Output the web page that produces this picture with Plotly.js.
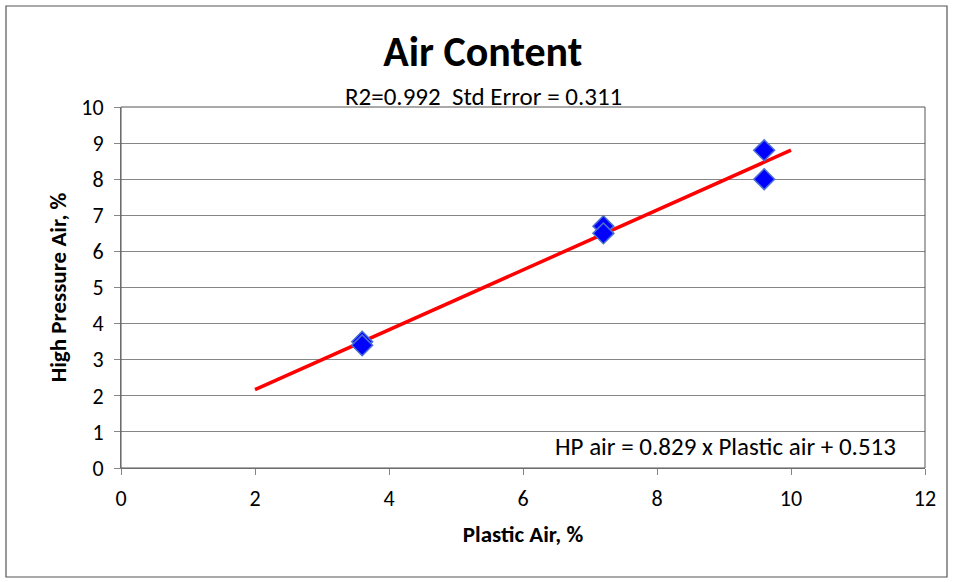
<!DOCTYPE html>
<html><head><meta charset="utf-8">
<script src="https://cdn.plot.ly/plotly-3.0.1.min.js"></script>
<style>html,body{margin:0;padding:0;background:#fff}#c{width:956px;height:582px}</style>
</head><body><div id="c"></div>
<script>
const plasticAir = [3.6, 3.6, 7.2, 7.2, 9.6, 9.6];
const hpAir = [3.5, 3.4, 6.7, 6.5, 8.8, 8.0];
const fitX = [2, 10];
const slope = 0.829, intercept = 0.513;
const fitY = fitX.map(x => slope * x + intercept);
const xTicks = [0, 2, 4, 6, 8, 10, 12];
const yTicks = [0, 1, 2, 3, 4, 5, 6, 7, 8, 9, 10];
const F = "Carlito, Calibri, Lato, 'Open Sans', sans-serif";

const traces = [
  {x: fitX, y: fitY, mode: 'lines', line: {color: '#ff0000', width: 3.5}, hoverinfo: 'skip'},
  {x: plasticAir, y: hpAir, mode: 'markers',
   marker: {symbol: 'diamond', size: 16, color: '#0000ff', line: {color: '#4a6fd0', width: 1.5}}}
];
const layout = {
  width: 956, height: 582, showlegend: false,
  paper_bgcolor: '#fff', plot_bgcolor: '#fff',
  margin: {l: 121, r: 31, t: 107, b: 114},
  font: {family: F, color: '#000'},
  title: {text: '<b>Air Content</b>', font: {size: 42, family: F}, x: 0.505, xref: 'container', xanchor: 'center',
          y: 1 - 51/582, yref: 'container', yanchor: 'middle'},
  xaxis: {range: [0, 12], tickvals: xTicks, ticks: 'outside', ticklen: 6, tickcolor: '#868686',
          showgrid: false, zeroline: false, showline: true, linecolor: '#868686', linewidth: 1,
          tickfont: {size: 22}, ticklabelstandoff: 5,
          title: {text: '<b>Plastic Air, %</b>', font: {size: 23}, standoff: 14}},
  yaxis: {range: [0, 10], tickvals: yTicks, ticks: 'outside', ticklen: 6, tickcolor: '#868686',
          showgrid: true, gridcolor: '#868686', gridwidth: 1, zeroline: false, showline: true,
          linecolor: '#868686', linewidth: 1, tickfont: {size: 22}, ticklabelstandoff: 6,
          title: {text: '<b>High Pressure Air, %</b>', font: {size: 23}, standoff: 8}},
  shapes: [
    {type: 'rect', xref: 'paper', yref: 'paper', x0: 0, x1: 1, y0: 0, y1: 1, line: {color: '#555', width: 1}},
    {type: 'rect', xref: 'paper', yref: 'paper', x0: -115/804, x1: 1 + 22/804, y0: -109/361, y1: 1 + 101/361,
     line: {color: '#555', width: 1.2}, layer: 'below'}
  ],
  annotations: [
    {text: 'R2=0.992  Std Error = 0.311', xref: 'paper', yref: 'paper', x: (483-121)/804, y: 1 + 11/361,
     showarrow: false, font: {size: 25}, xanchor: 'center', yanchor: 'middle'},
    {text: 'HP air = 0.829 x Plastic air + 0.513', xref: 'paper', yref: 'paper', x: (898-121)/804, y: 22/361,
     showarrow: false, font: {size: 25}, xanchor: 'right', yanchor: 'middle'}
  ]
};
Plotly.newPlot('c', traces, layout, {staticPlot: true});
</script></body></html>
